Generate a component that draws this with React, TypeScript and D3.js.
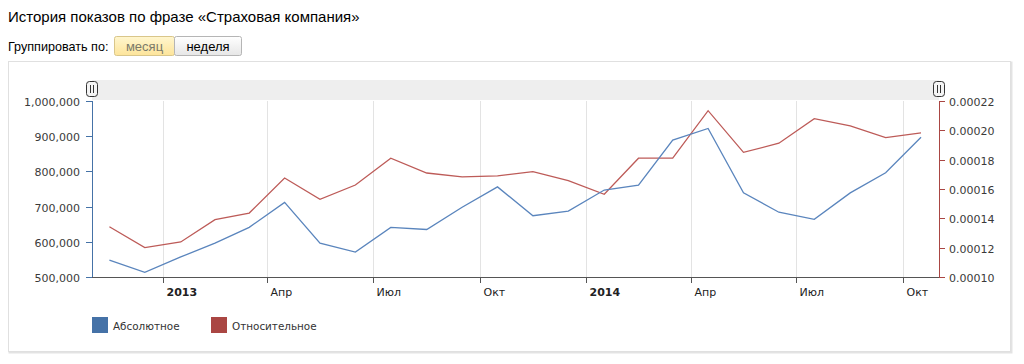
import React from "react";
import * as d3 from "d3";

const months: string[] = [
  "2012-11", "2012-12", "2013-01", "2013-02", "2013-03", "2013-04",
  "2013-05", "2013-06", "2013-07", "2013-08", "2013-09", "2013-10",
  "2013-11", "2013-12", "2014-01", "2014-02", "2014-03", "2014-04",
  "2014-05", "2014-06", "2014-07", "2014-08", "2014-09", "2014-10",
];

const absoluteValues: number[] = [
  548000, 513000, 557000, 596000, 641000, 712000,
  596000, 571000, 641000, 635000, 698000, 756000,
  674000, 687000, 747000, 761000, 889000, 922000,
  739000, 684000, 664000, 739000, 796000, 897000,
];

const relativeValues: number[] = [
  0.0001343, 0.00012, 0.0001239, 0.0001391, 0.0001436, 0.0001675,
  0.000153, 0.0001627, 0.000181, 0.0001709, 0.0001682, 0.0001689,
  0.0001718, 0.0001657, 0.0001564, 0.000181, 0.000181, 0.0002134,
  0.000185, 0.0001912, 0.000208, 0.000203, 0.000195, 0.0001982,
];

const leftTicks: number[] = [500000, 600000, 700000, 800000, 900000, 1000000];
const rightTicks: number[] = [0.0001, 0.00012, 0.00014, 0.00016, 0.00018, 0.0002, 0.00022];

const xTickDates: string[] = ["2013-01", "2013-04", "2013-07", "2013-10", "2014-01", "2014-04", "2014-07", "2014-10"];
const xTickLabels: string[] = ["2013", "Апр", "Июл", "Окт", "2014", "Апр", "Июл", "Окт"];
const xTickBold: boolean[] = [true, false, false, false, true, false, false, false];

const seriesNames: string[] = ["Абсолютное", "Относительное"];
const seriesColors: string[] = ["#4572A7", "#AA4643"];
const lineColors: string[] = ["#5a85bd", "#bd5b58"];

const parseMonth = (s: string) => {
  const [y, m] = s.split("-").map(Number);
  return new Date(y, m - 1, 1);
};
const monthMid = (s: string) => {
  const a = parseMonth(s);
  const b = d3.timeMonth.offset(a, 1);
  return new Date((a.getTime() + b.getTime()) / 2);
};

const FONT = "'DejaVu Sans', Verdana, sans-serif";
const AFONT = "'Liberation Sans', Arial, sans-serif";

export default function App() {
  const left = 92, right = 939, top = 101, bottom = 277;
  const x = d3.scaleTime()
    .domain([new Date(2012, 10, 1), new Date(2014, 10, 1)])
    .range([left, right]);
  const yL = d3.scaleLinear().domain([500000, 1000000]).range([bottom, top]);
  const yR = d3.scaleLinear().domain([0.0001, 0.00022]).range([bottom, top]);

  const lineA = d3.line<number>()
    .x((_, i) => x(monthMid(months[i])))
    .y((d) => yL(d));
  const lineR = d3.line<number>()
    .x((_, i) => x(monthMid(months[i])))
    .y((d) => yR(d));

  const fmtL = d3.format(",");
  const fmtR = (v: number) => v.toFixed(5);

  return (
    <svg width={1024} height={364} style={{ position: "absolute", left: 0, top: 0, background: "#fff" }}>
      <defs>
        <linearGradient id="btnActive" x1="0" y1="0" x2="0" y2="1">
          <stop offset="0" stopColor="#fff6cf" />
          <stop offset="1" stopColor="#fde49a" />
        </linearGradient>
        <linearGradient id="btnNormal" x1="0" y1="0" x2="0" y2="1">
          <stop offset="0" stopColor="#ffffff" />
          <stop offset="1" stopColor="#e6e6e6" />
        </linearGradient>
      </defs>

      <text x={8} y={22} fontFamily={AFONT} fontSize={15} fill="#000">
        История показов по фразе «Страховая компания»
      </text>
      <text x={8} y={51} fontFamily={AFONT} fontSize={12.6} fill="#000">
        Группировать по:
      </text>

      <rect x={114.5} y={36.5} width={60} height={19} rx={2} fill="url(#btnActive)" stroke="#d9c68a" />
      <text x={144.5} y={50.5} textAnchor="middle" fontFamily={AFONT} fontSize={13} fill="#7a7a6a">месяц</text>
      <rect x={174.5} y={36.5} width={67} height={19} rx={2} fill="url(#btnNormal)" stroke="#b5b5b5" />
      <text x={208} y={50.5} textAnchor="middle" fontFamily={AFONT} fontSize={13} fill="#000">неделя</text>

      {/* container */}
      <rect x={9.5} y={62.5} width={1002} height={290} fill="none" stroke="#c8c8c8" strokeWidth={2} opacity={0.5} />
      <rect x={8.5} y={61.5} width={1002} height={290} fill="#fff" stroke="#e0e0e0" />

      {/* navigator band */}
      <rect x={left} y={80} width={right - left} height={20} fill="#eeeeee" />

      {/* grid lines */}
      {xTickDates.map((d) => {
        const xx = Math.round(x(parseMonth(d))) + 0.5;
        return <line key={"g" + d} x1={xx} x2={xx} y1={top} y2={bottom} stroke="#e3e3e3" strokeWidth={1} />;
      })}

      {/* x axis */}
      <line x1={left} x2={right} y1={bottom + 0.5} y2={bottom + 0.5} stroke="#555" strokeWidth={1} />
      {xTickDates.map((d, i) => {
        const xx = Math.round(x(parseMonth(d))) + 0.5;
        return (
          <g key={"t" + d}>
            <line x1={xx} x2={xx} y1={bottom} y2={bottom + 6} stroke="#555" />
            <text x={xx + 3} y={296} fontFamily={FONT} fontSize={11}
              fontWeight={xTickBold[i] ? "bold" : "normal"} fill="#222">{xTickLabels[i]}</text>
          </g>
        );
      })}

      {/* left axis */}
      <line x1={left + 0.5} x2={left + 0.5} y1={top} y2={bottom} stroke={seriesColors[0]} />
      {leftTicks.map((v) => {
        const yy = Math.round(yL(v)) + 0.5;
        return (
          <g key={"l" + v}>
            <line x1={left - 6} x2={left} y1={yy} y2={yy} stroke={seriesColors[0]} />
            <text x={80} y={yy + 4} textAnchor="end" fontFamily={FONT} fontSize={11} fill="#3a3a3a">{fmtL(v)}</text>
          </g>
        );
      })}

      {/* right axis */}
      <line x1={right + 0.5} x2={right + 0.5} y1={top} y2={bottom} stroke={seriesColors[1]} />
      {rightTicks.map((v) => {
        const yy = Math.round(yR(v)) + 0.5;
        return (
          <g key={"r" + v}>
            <line x1={right} x2={right + 6} y1={yy} y2={yy} stroke={seriesColors[1]} />
            <text x={949} y={yy + 4} fontFamily={FONT} fontSize={11} fill="#3a3a3a">{fmtR(v)}</text>
          </g>
        );
      })}

      {/* series */}
      <path d={lineR(relativeValues) || ""} fill="none" stroke={lineColors[1]} strokeWidth={1.3} />
      <path d={lineA(absoluteValues) || ""} fill="none" stroke={lineColors[0]} strokeWidth={1.3} />

      {/* navigator handles */}
      {[left - 5.5, right - 5.5].map((hx, i) => (
        <g key={"h" + i}>
          <rect x={hx} y={81.5} width={11} height={15} rx={3} fill="#f4f4f4" stroke="#333" />
          <line x1={hx + 4} x2={hx + 4} y1={85} y2={93} stroke="#333" />
          <line x1={hx + 7} x2={hx + 7} y1={85} y2={93} stroke="#333" />
        </g>
      ))}

      {/* legend */}
      {seriesNames.map((name, i) => {
        const lx = i === 0 ? 92 : 211;
        return (
          <g key={name}>
            <rect x={lx} y={317} width={16} height={16} fill={seriesColors[i]} />
            <text x={lx + 21} y={330} fontFamily={FONT} fontSize={10.4} fill="#333">{name}</text>
          </g>
        );
      })}
    </svg>
  );
}
